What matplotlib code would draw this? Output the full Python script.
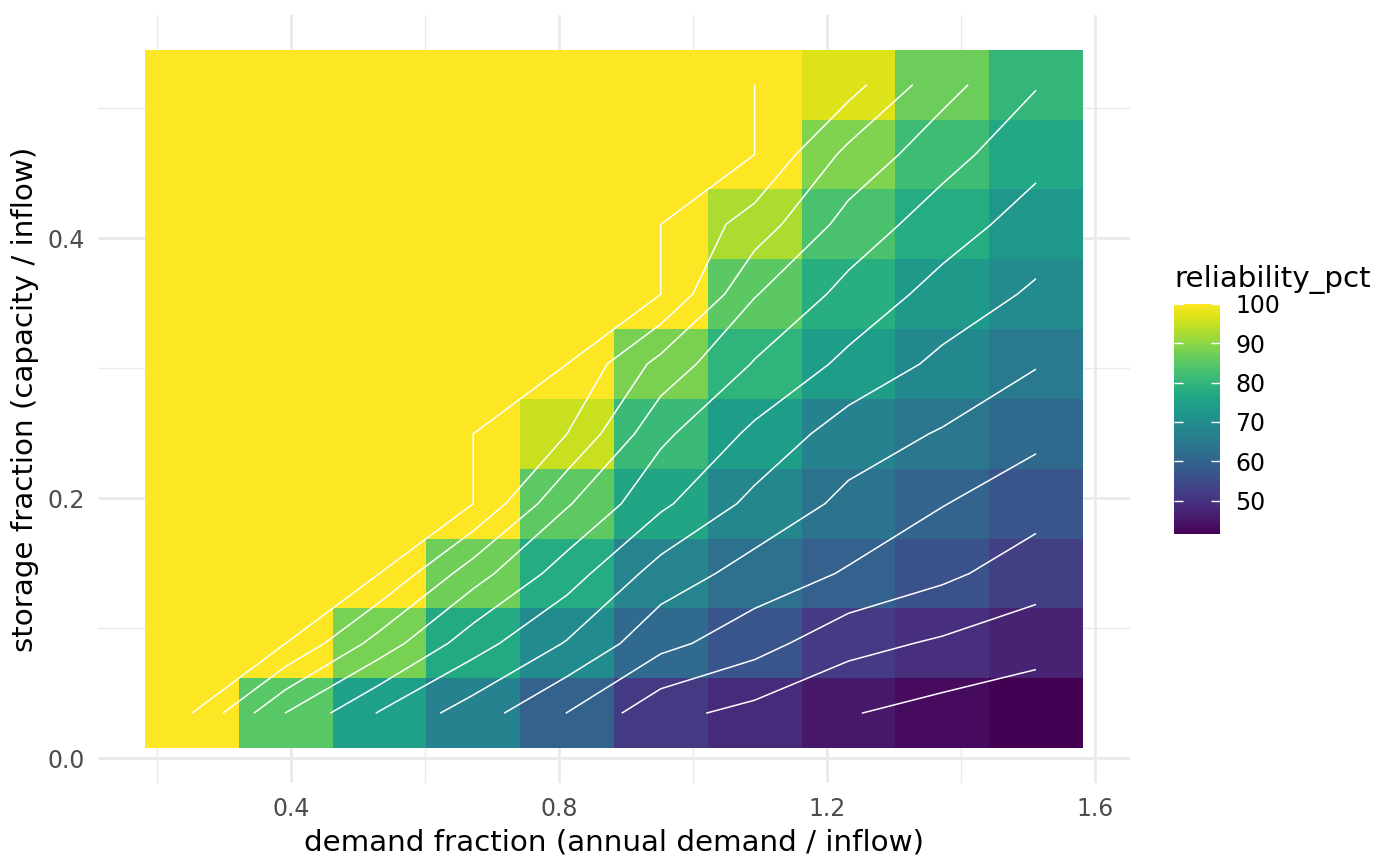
import numpy as np
import matplotlib
matplotlib.use("Agg")
import matplotlib.pyplot as plt

# tile centres
demand_frac = [0.252, 0.392, 0.532, 0.672, 0.812, 0.952, 1.092, 1.232, 1.372, 1.512]
storage_frac = [0.0346, 0.0883, 0.1420, 0.1957, 0.2494, 0.3031, 0.3568, 0.4105, 0.4642, 0.5179]

# one row per storage fraction (bottom to top), one value per demand fraction
reliability_pct = [
    [100, 84.9, 74.6, 67.5, 59.9, 51.5, 48.4, 45.3, 43.2, 41.5],
    [100, 100, 87.9, 77.1, 69.6, 61.5, 57.0, 51.6, 49.3, 47.1],
    [100, 100, 100, 87.2, 77.4, 67.8, 63.0, 59.5, 56.1, 52.3],
    [100, 100, 100, 100, 85.5, 76.0, 68.6, 63.8, 60.2, 57.0],
    [100, 100, 100, 100, 95.0, 81.1, 73.9, 67.4, 64.6, 61.2],
    [100, 100, 100, 100, 100, 88.3, 79.6, 73.8, 68.8, 65.3],
    [100, 100, 100, 100, 100, 100, 85.3, 78.4, 73.2, 69.2],
    [100, 100, 100, 100, 100, 100, 92.8, 83.1, 77.4, 72.8],
    [100, 100, 100, 100, 100, 100, 100, 88.6, 81.9, 76.5],
    [100, 100, 100, 100, 100, 100, 100, 97.0, 86.8, 80.3],
]

contour_levels = [45, 50, 55, 60, 65, 70, 75, 80, 85, 90, 95, 100]
x_ticks = [0.4, 0.8, 1.2, 1.6]
x_minor = [0.2, 0.6, 1.0, 1.4]
y_ticks = [0.0, 0.2, 0.4]
y_minor = [0.1, 0.3, 0.5]
legend_ticks = [50, 60, 70, 80, 90, 100]


def edges(centres):
    c = np.asarray(centres, dtype=float)
    mid = (c[:-1] + c[1:]) / 2
    return np.concatenate([[c[0] - (mid[0] - c[0])], mid, [c[-1] + (c[-1] - mid[-1])]])


def expand(lo, hi, mult=0.05):
    pad = (hi - lo) * mult
    return lo - pad, hi + pad


Z = np.array(reliability_pct)
xe = edges(demand_frac)
ye = edges(storage_frac)

title_size = 10.6
tick_size = 8.5

plt.rcParams['font.family'] = ['DejaVu Sans']
fig = plt.figure(figsize=(7, 4.33), dpi=200)
ax = fig.add_axes([0.070, 0.0958, 0.737, 0.887])

mesh = ax.pcolormesh(xe, ye, Z, cmap='viridis', vmin=Z.min(), vmax=Z.max(),
                     shading='flat', linewidth=0, zorder=2)

# a contour exactly at the maximum would vanish, so nudge it just below
line_levels = np.minimum(contour_levels, Z.max() - 1e-4)
ax.contour(demand_frac, storage_frac, Z, levels=line_levels,
           colors='white', linewidths=0.55, zorder=3)

ax.set_xlim(*expand(xe[0], xe[-1]))
ax.set_ylim(*expand(ye[0], ye[-1]))

ax.set_xticks(x_ticks)
ax.set_xticklabels([f"{t:.1f}" for t in x_ticks])
ax.set_xticks(x_minor, minor=True)
ax.set_yticks(y_ticks)
ax.set_yticklabels([f"{t:.1f}" for t in y_ticks])
ax.set_yticks(y_minor, minor=True)

ax.grid(which='major', color='#ebebeb', linewidth=1.07, zorder=0)
ax.grid(which='minor', color='#ebebeb', linewidth=0.53, zorder=0)
ax.set_axisbelow(True)
for s in ax.spines.values():
    s.set_visible(False)
ax.tick_params(which='both', length=0, labelsize=tick_size, labelcolor='#4d4d4d', pad=4.9)

ax.set_xlabel("demand fraction (annual demand / inflow)", fontsize=title_size, labelpad=3.0)
ax.set_ylabel("storage fraction (capacity / inflow)", fontsize=title_size, labelpad=3.0)

# colourbar legend
cax = fig.add_axes([0.8386, 0.3834, 0.0329, 0.2656])
cb = fig.colorbar(mesh, cax=cax, ticks=legend_ticks)
cb.outline.set_visible(False)
cb.minorticks_off()
cax.tick_params(direction='in', length=3.2, width=0.5, color='white',
                left=True, right=True, labelleft=False, labelright=True,
                labelsize=tick_size, labelcolor='black', pad=5.5)
fig.text(0.839, 0.6767, "reliability_pct", fontsize=title_size, va='center', ha='left')

fig.savefig("out.png", dpi=200, facecolor='white')
